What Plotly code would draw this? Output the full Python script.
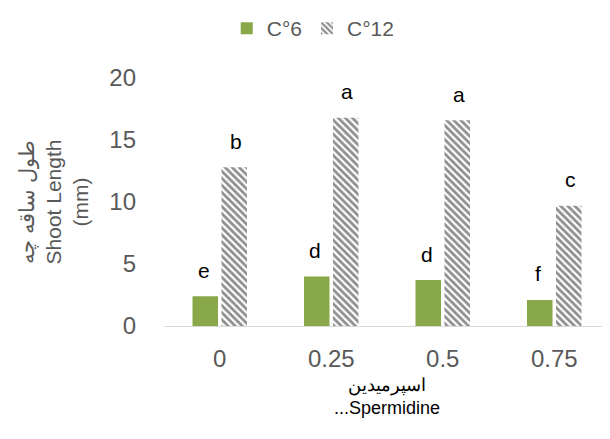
import plotly.graph_objects as go

categories = ["0", "0.25", "0.5", "0.75"]
c6_values = [2.4, 4.0, 3.7, 2.1]
c12_values = [12.8, 16.8, 16.6, 9.7]
c6_letters = ["e", "d", "d", "f"]
c12_letters = ["b", "a", "a", "c"]
y_ticks = [0, 5, 10, 15, 20]

GRAY = "#595959"
FONT = "Liberation Sans, Arial, sans-serif"

fig = go.Figure()
fig.add_trace(go.Bar(
    x=categories, y=c6_values, name="C°6",
    marker=dict(color="#88a84a", line=dict(width=0)),
))
fig.add_trace(go.Bar(
    x=categories, y=c12_values, name="C°12",
    marker=dict(color="white", line=dict(width=0),
                pattern=dict(shape="\\", fgcolor="#1f1f1f", bgcolor="white",
                             size=5, solidity=0.55)),
))

annotations = []
for i, cat in enumerate(categories):
    annotations.append(dict(x=i, y=c6_values[i], text=c6_letters[i], xref="x", yref="y",
                            showarrow=False, xshift=-16, yshift=26,
                            font=dict(size=21, color="black", family=FONT)))
    annotations.append(dict(x=i, y=c12_values[i], text=c12_letters[i], xref="x", yref="y",
                            showarrow=False, xshift=16, yshift=26,
                            font=dict(size=21, color="black", family=FONT)))

fig.update_layout(
    width=602, height=431,
    paper_bgcolor="white", plot_bgcolor="white",
    margin=dict(l=156, r=0, t=70, b=113, autoexpand=False),
    barmode="group", bargap=0.48, bargroupgap=0.12,
    font=dict(family=FONT, color=GRAY, size=21),
    legend=dict(orientation="h", x=0.507, xref="container", xanchor="center",
                y=1.0, yref="container", yanchor="top",
                font=dict(size=21, color=GRAY), traceorder="normal", itemwidth=30),
    xaxis=dict(type="category", showline=True, linecolor="#d9d9d9", linewidth=1, ticks="",
               tickfont=dict(size=24, color=GRAY), automargin=False, ticklabelstandoff=11,
               title=dict(text="اسپرمیدین<br>...Spermidine", font=dict(size=18, color="black"),
                          standoff=7)),
    yaxis=dict(range=[0, 20], tickvals=y_ticks, showgrid=False, zeroline=False,
               showline=False, ticks="", tickfont=dict(size=24, color=GRAY), automargin=False,
               ticklabelstandoff=27,
               title=dict(text="طول ساقه چه<br>Shoot Length<br>(mm)", font=dict(size=21, color=GRAY),
                          standoff=14)),
    annotations=annotations,
)

fig.write_html("out.html")
